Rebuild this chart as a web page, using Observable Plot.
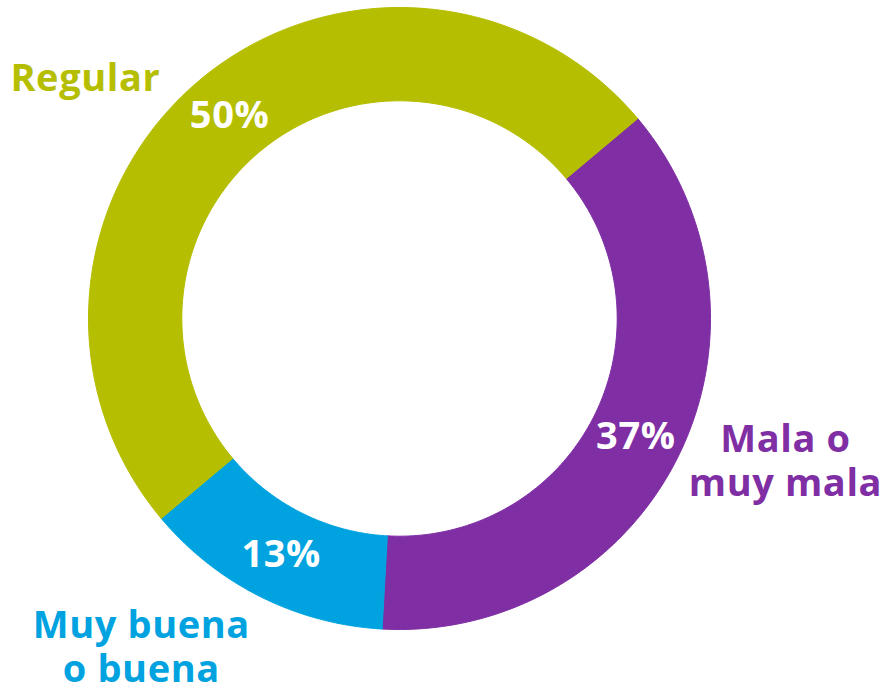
<!DOCTYPE html>
<html>
<head>
<meta charset="utf-8">
<script src="https://cdn.jsdelivr.net/npm/d3@7"></script>
<script src="https://cdn.jsdelivr.net/npm/@observablehq/plot@0.6"></script>
<style>
  html, body { margin: 0; padding: 0; background: #fff; }
  #chart svg { display: block; }
  #chart svg text { letter-spacing: 0.6px; }
</style>
</head>
<body>
<div id="chart"></div>
<script>
// ---- Data ----
const categories = ["Mala o muy mala", "Muy buena o buena", "Regular"];
const labels = ["Mala o\nmuy mala", "Muy buena\no buena", "Regular"];
const values = [37, 13, 50];
const colors = ["#7F2EA4", "#00A3E0", "#B5BE00"];

// ---- Layout (not data) ----
const W = 886, H = 685;
const startDeg = 50;           // first slice starts at 50° clockwise from 12 o'clock
const innerRatio = 0.70;       // inner radius / outer radius
const labelPos = [              // label anchors in chart units (outer radius = 1)
  {x: 1.241, y: -0.455, anchor: "middle"},
  {x: -0.830, y: -1.052, anchor: "middle"},
  {x: -1.251, y: 0.772, anchor: "start"}
];
const FONT = "'Open Sans', 'DejaVu Sans', sans-serif";

const pie = d3.pie().sort(null).value(d => d.value).startAngle(startDeg * Math.PI / 180).endAngle(startDeg * Math.PI / 180 + 2 * Math.PI);
const rows = categories.map((c, i) => ({category: c, label: labels[i], value: values[i], color: colors[i], i}));
const arcs = pie(rows);

// polygon outline of each ring segment (geometry sampling of the arc)
const ringPts = [];
arcs.forEach(a => {
  const n = 120;
  const outer = d3.range(n + 1).map(k => a.startAngle + (a.endAngle - a.startAngle) * k / n);
  outer.forEach(t => ringPts.push({category: a.data.category, x: Math.sin(t), y: Math.cos(t)}));
  outer.slice().reverse().forEach(t => ringPts.push({category: a.data.category, x: innerRatio * Math.sin(t), y: innerRatio * Math.cos(t)}));
  ringPts.push({category: a.data.category, x: Math.sin(a.startAngle), y: Math.cos(a.startAngle)});
});

const mids = arcs.map(a => {
  const m = (a.startAngle + a.endAngle) / 2, r = (1 + innerRatio) / 2;
  return {category: a.data.category, text: `${a.data.value}%`, x: r * Math.sin(m), y: r * Math.cos(m)};
});
const outerLabels = rows.map((d, i) => ({...d, ...labelPos[i]}));

const chart = Plot.plot({
  width: W,
  height: H,
  marginLeft: 88,
  marginRight: 176,
  marginTop: 7,
  marginBottom: 56,
  x: {domain: [-1, 1], axis: null},
  y: {domain: [-1, 1], axis: null},
  color: {domain: categories, range: colors},
  style: {fontFamily: FONT, background: "#fff", overflow: "visible"},
  marks: [
    Plot.line(ringPts, {x: "x", y: "y", z: "category", fill: "category", stroke: "category", strokeWidth: 1, curve: "linear"}),
    Plot.text(mids, {x: "x", y: "y", text: "text", fill: "white", fontSize: 38, fontWeight: 700, fontFamily: FONT}),
    Plot.text(outerLabels.filter(d => d.anchor === "middle"), {x: "x", y: "y", text: "label", fill: "category", fontSize: 38, fontWeight: 700, lineHeight: 1.15, textAnchor: "middle", fontFamily: FONT}),
    Plot.text(outerLabels.filter(d => d.anchor === "start"), {x: "x", y: "y", text: "label", fill: "category", fontSize: 38, fontWeight: 700, textAnchor: "start", fontFamily: FONT})
  ]
});
document.getElementById("chart").append(chart);
</script>
</body>
</html>
